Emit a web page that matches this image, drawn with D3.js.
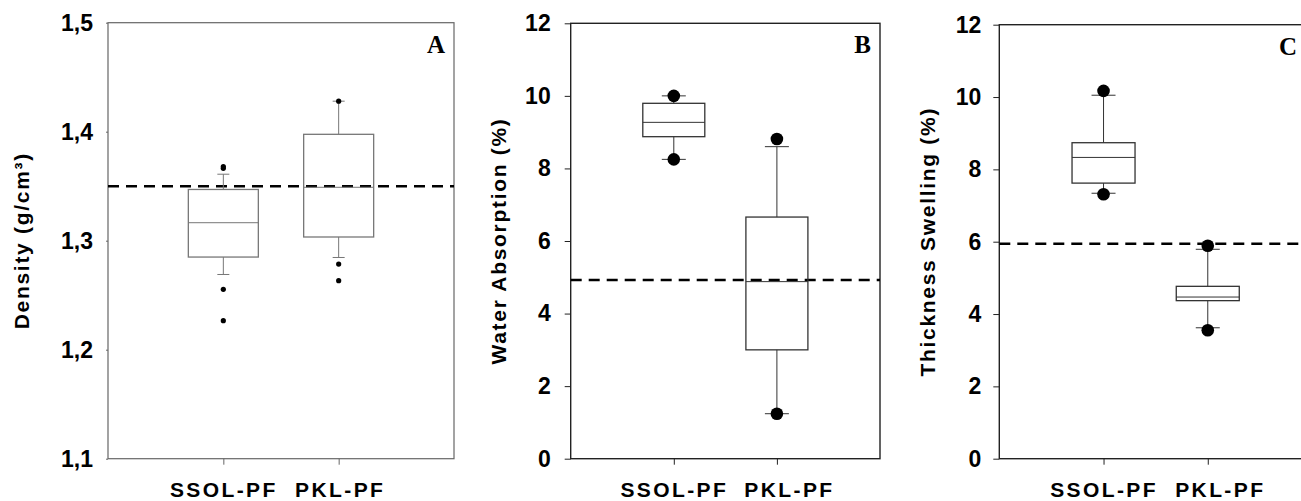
<!DOCTYPE html>
<html>
<head>
<meta charset="utf-8">
<script src="https://cdn.jsdelivr.net/npm/d3@7"></script>
<style>
	body { margin: 0; background: #fff; }
	text { font-family: "Liberation Sans", Arial, sans-serif; font-weight: bold; fill: #000; }
	.panel-letter { font-family: "Liberation Serif", "Times New Roman", serif; }
</style>
</head>
<body>
<div id="chart"></div>
<script>
// groups on the x axis
var groups = ["SSOL-PF", "PKL-PF"];

// box stats per group: [lower whisker, Q1, median, Q3, upper whisker]
var densityBox = [[1.269, 1.285, 1.3165, 1.347, 1.361], [1.2846, 1.3034, 1.349, 1.3976, 1.428]];
var densityOutliers = [[1.368, 1.3664, 1.2554, 1.2266], [1.428, 1.2786, 1.2633]];
var densityRef = 1.35;
var densityTicks = [1.1, 1.2, 1.3, 1.4, 1.5];

var waterBox = [[8.25, 8.875, 9.27, 9.795, 10.0], [1.24, 3.0, 4.88, 6.66, 8.6]];
var waterOutliers = [[10.0, 8.25], [8.81, 1.24]];
var waterRef = 4.925;
var waterTicks = [0, 2, 4, 6, 8, 10, 12];

var swellBox = [[7.34, 7.62, 8.33, 8.737, 10.05], [3.62, 4.37, 4.47, 4.766, 5.79]];
var swellOutliers = [[10.17, 7.31], [5.89, 3.55]];
var swellRef = 5.945;
var swellTicks = [0, 2, 4, 6, 8, 10, 12];

var width = 1301;
var height = 501;

var svg = d3.select('#chart')
	.append('svg')
	.attr('width', width)
	.attr('height', height);

function commaFormat(digits)
{
	var f = d3.format('.' + digits + 'f');
	return function(d) { return f(d).replace('.', ','); };
}

function drawPanel(opt)
{
	var g = svg.append('g');

	var x = d3.scalePoint()
		.domain(groups)
		.range([opt.left, opt.right])
		.padding(1);

	var y = d3.scaleLinear()
		.domain([opt.ticks[0], opt.ticks[opt.ticks.length - 1]])
		.range([opt.bottom, opt.top]);

	// frame
	g.append('rect')
		.attr('x', opt.left)
		.attr('y', opt.top)
		.attr('width', opt.right - opt.left)
		.attr('height', opt.bottom - opt.top)
		.attr('fill', 'none')
		.attr('stroke', opt.frameColor)
		.attr('stroke-width', opt.frameWidth);

	// y axis
	var yAxis = g.append('g')
		.attr('transform', 'translate(' + opt.left + ',0)')
		.call(d3.axisLeft(y)
			.tickValues(opt.ticks)
			.tickFormat(opt.format)
			.tickSize(opt.yTickSize)
			.tickPadding(opt.yPad));
	yAxis.select('.domain').remove();
	yAxis.selectAll('line').attr('stroke', opt.frameColor);
	yAxis.selectAll('text')
		.attr('fill', '#000')
		.style('font-size', '23px');

	// x axis
	var xAxis = g.append('g')
		.attr('transform', 'translate(0,' + opt.bottom + ')')
		.call(d3.axisBottom(x)
			.tickSize(6)
			.tickPadding(17));
	xAxis.select('.domain').remove();
	xAxis.selectAll('line').attr('stroke', opt.frameColor);
	xAxis.selectAll('text')
		.attr('fill', '#000')
		.attr('dx', function(d, i) { return i == 1 ? opt.xShift : 0; })
		.style('font-size', '21px')
		.style('letter-spacing', '2.4px');

	// y title
	g.append('text')
		.attr('transform', 'translate(' + opt.titleX + ',' + ((opt.top + opt.bottom) / 2) + ') rotate(-90)')
		.attr('text-anchor', 'middle')
		.style('font-size', '21px')
		.style('letter-spacing', '1.7px')
		.text(opt.title);

	// reference line
	g.append('line')
		.attr('x1', opt.left)
		.attr('x2', opt.right)
		.attr('y1', y(opt.ref))
		.attr('y2', y(opt.ref))
		.attr('stroke', '#000')
		.attr('stroke-width', 2.6)
		.attr('stroke-dasharray', '11,7');

	// boxes
	var boxes = g.selectAll('.box')
		.data(opt.box)
		.enter()
		.append('g')
		.attr('class', 'box');

	boxes.append('line')
		.attr('x1', function(d, i) { return x(groups[i]); })
		.attr('x2', function(d, i) { return x(groups[i]); })
		.attr('y1', function(d) { return y(d[0]); })
		.attr('y2', function(d) { return y(d[1]); })
		.attr('stroke', opt.boxColor);

	boxes.append('line')
		.attr('x1', function(d, i) { return x(groups[i]); })
		.attr('x2', function(d, i) { return x(groups[i]); })
		.attr('y1', function(d) { return y(d[3]); })
		.attr('y2', function(d) { return y(d[4]); })
		.attr('stroke', opt.boxColor);

	[0, 4].forEach(function(k)
	{
		boxes.append('line')
			.attr('x1', function(d, i) { return x(groups[i]) - opt.capHalf; })
			.attr('x2', function(d, i) { return x(groups[i]) + opt.capHalf; })
			.attr('y1', function(d) { return y(d[k]); })
			.attr('y2', function(d) { return y(d[k]); })
			.attr('stroke', opt.boxColor);
	});

	boxes.append('rect')
		.attr('x', function(d, i) { return x(groups[i]) - opt.boxWidth / 2; })
		.attr('y', function(d) { return y(d[3]); })
		.attr('width', opt.boxWidth)
		.attr('height', function(d) { return y(d[1]) - y(d[3]); })
		.attr('fill', 'none')
		.attr('stroke', opt.boxColor)
		.attr('stroke-width', 1.3);

	boxes.append('line')
		.attr('x1', function(d, i) { return x(groups[i]) - opt.boxWidth / 2; })
		.attr('x2', function(d, i) { return x(groups[i]) + opt.boxWidth / 2; })
		.attr('y1', function(d) { return y(d[2]); })
		.attr('y2', function(d) { return y(d[2]); })
		.attr('stroke', opt.boxColor);

	// outliers
	opt.outliers.forEach(function(vals, i)
	{
		g.selectAll('.dot' + i)
			.data(vals)
			.enter()
			.append('circle')
			.attr('cx', x(groups[i]))
			.attr('cy', function(d) { return y(d); })
			.attr('r', opt.dotR)
			.attr('fill', '#000');
	});

	// panel letter
	g.append('text')
		.attr('class', 'panel-letter')
		.attr('x', opt.right - opt.letterInset)
		.attr('y', opt.top + 30)
		.attr('text-anchor', 'end')
		.style('font-size', '25px')
		.text(opt.letter);
}

drawPanel({
	left: 108, right: 454, top: 22.7, bottom: 458.7,
	ticks: densityTicks, format: commaFormat(1),
	box: densityBox, outliers: densityOutliers, ref: densityRef,
	title: 'Density (g/cm³)', titleX: 29, letter: 'A', letterInset: 9,
	frameColor: '#666', frameWidth: 1.2, boxColor: '#777', xShift: 1,
	yTickSize: 2, yPad: 13, boxWidth: 70, capHalf: 6, dotR: 2.6
});

drawPanel({
	left: 570.7, right: 880, top: 23.3, bottom: 458.7,
	ticks: waterTicks, format: d3.format('d'),
	box: waterBox, outliers: waterOutliers, ref: waterRef,
	title: 'Water Absorption (%)', titleX: 506, letter: 'B', letterInset: 9,
	frameColor: '#222', frameWidth: 1.4, boxColor: '#333', xShift: 12,
	yTickSize: 6, yPad: 14, boxWidth: 62, capHalf: 12, dotR: 6.3
});

drawPanel({
	left: 999.3, right: 1312, top: 24.7, bottom: 458.7,
	ticks: swellTicks, format: d3.format('d'),
	box: swellBox, outliers: swellOutliers, ref: swellRef,
	title: 'Thickness Swelling (%)', titleX: 935, letter: 'C', letterInset: 15,
	frameColor: '#222', frameWidth: 1.4, boxColor: '#333', xShift: 12,
	yTickSize: 6, yPad: 12, boxWidth: 63, capHalf: 12, dotR: 6.3
});
</script>
</body>
</html>
